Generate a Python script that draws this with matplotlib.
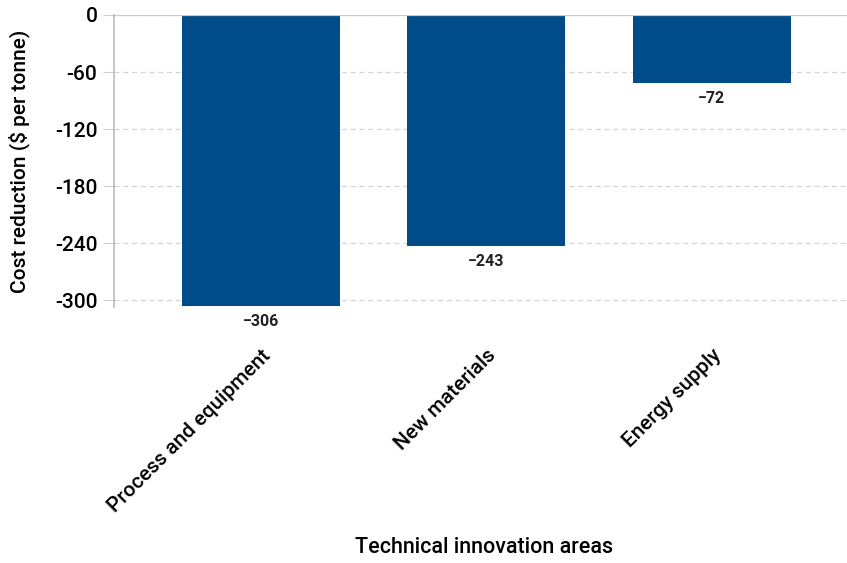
import matplotlib.pyplot as plt

# chart data
areas = ['Process and equipment', 'New materials', 'Energy supply']
cost_cut = [-306, -243, -72]
yticks = [0, -60, -120, -180, -240, -300]

plt.rcParams['font.family'] = ['Roboto', 'DejaVu Sans']

fig = plt.figure(figsize=(8.47, 5.63), dpi=100)
ax = fig.add_axes([0.1346, 0.4547, 0.8654, 0.5187])

x = range(len(areas))
ax.bar(x, cost_cut, width=0.70, color='#004c89', zorder=3)

for xi, v in zip(x, cost_cut):
    ax.text(xi, v - 8, f'\u2212{abs(v)}', ha='center', va='top',
            fontsize=11.5, fontweight='bold', color='#222222')

ax.set_xlim(-0.65, 2.6)
ax.set_ylim(-307, 0)
ax.set_yticks(yticks)
ax.set_yticklabels([str(t) for t in yticks], fontsize=15, fontweight='medium')
ax.set_xticks(list(x))
ax.set_xticklabels(areas, rotation=45, ha='right', rotation_mode='anchor',
                   fontsize=15, fontweight='medium')
ax.tick_params(axis='x', length=0, pad=28)
ax.tick_params(axis='y', length=8, color='#d0d0d0', pad=4)

ax.grid(axis='y', linestyle=(0, (4, 3)), color='#d5d5d5', linewidth=0.9, zorder=0)
ax.axhline(0, color='#c8c8c8', linewidth=1.6, zorder=4)

for s in ['top', 'right', 'bottom']:
    ax.spines[s].set_visible(False)
ax.spines['left'].set_color('#bbbbbb')
ax.spines['left'].set_linewidth(1.2)

ax.set_ylabel('Cost reduction ($ per tonne)', fontsize=15, fontweight='medium')
ax.yaxis.set_label_coords(-0.115, 0.5)
fig.text(0.572, 0.008, 'Technical innovation areas', ha='center', va='bottom',
         fontsize=15.5, fontweight='medium')

fig.savefig('out.png', dpi=100)
